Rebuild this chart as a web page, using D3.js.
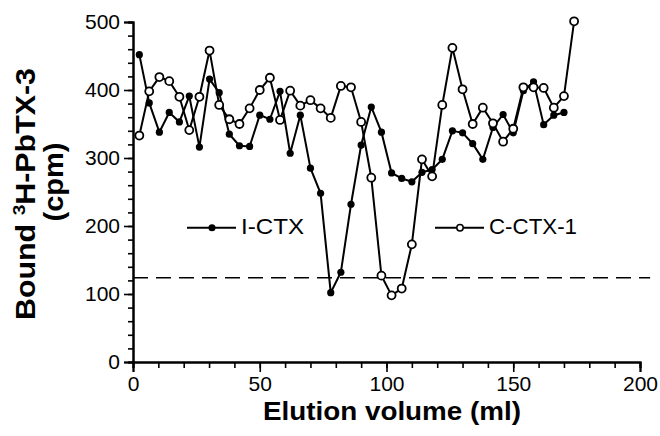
<!DOCTYPE html>
<html>
<head>
<meta charset="utf-8">
<script src="https://cdn.jsdelivr.net/npm/d3@7"></script>
<style>
  body { margin: 0; background: #fff; }
  svg { font-family: "Liberation Sans", Arial, sans-serif; }
</style>
</head>
<body>
<svg></svg>
<script>
var width = 660,
    height = 436,
    margin = {
        left: 133,
        right: 20,
        top: 22,
        bottom: 74
    }

// elution volume (ml) of each fraction
var volumeI = [2.5, 6.4, 10.4, 14.3, 18.3, 22.2, 26.2, 30.2, 34, 38, 42, 46, 50, 54, 58, 62, 66, 70, 74, 78, 82, 86, 90, 94, 98, 102, 106, 110, 114, 118, 122, 126, 130, 134, 138, 142, 146, 150, 154, 158, 162, 166, 170]
var boundI = [452, 381, 338, 367, 353, 391, 316, 416, 396, 335, 318, 317, 363, 357, 398, 307, 363, 285, 248, 102, 132, 232, 319, 375, 338, 278, 270, 265, 279, 283, 298, 340, 337, 321, 298, 345, 364, 337, 399, 412, 349, 363, 367]

var volumeC = [2.5, 6.4, 10.4, 14.3, 18.3, 22.2, 26.2, 30.2, 34, 38, 42, 46, 50, 54, 58, 62, 66, 70, 74, 78, 82, 86, 90, 94, 98, 102, 106, 110, 114, 118, 122, 126, 130, 134, 138, 142, 146, 150, 154, 158, 162, 166, 170, 174]
var boundC = [333, 398, 419, 413, 390, 341, 390, 458, 378, 357, 350, 373, 400, 418, 356, 399, 377, 385, 373, 359, 406, 404, 353, 271, 127, 98, 108, 173, 298, 273, 378, 462, 401, 350, 374, 351, 324, 343, 404, 404, 403, 374, 391, 501]

var xTicks = [0, 50, 100, 150, 200],
    yTicks = [0, 100, 200, 300, 400, 500],
    baseline = 124

var svg = d3.select("svg").attr("width", width).attr("height", height)
var w = width - margin.left - margin.right,
    h = height - margin.top - margin.bottom

var xScale = d3.scaleLinear().domain([0, 200]).range([0, 507])
var yScale = d3.scaleLinear().domain([0, 500]).range([h, 0])

var group = svg.append("g")
    .attr("transform", "translate(" + margin.left + "," + margin.top + ")")

// minor ticks first, then the labelled axes on top
group.append("g")
    .attr("transform", "translate(0," + h + ")")
    .call(d3.axisBottom(xScale).tickValues(d3.range(0, 201, 10)).tickSize(6).tickFormat(""))
group.append("g")
    .call(d3.axisLeft(yScale).tickValues(d3.range(0, 501, 20)).tickSize(5).tickFormat(""))

group.append("g")
    .attr("transform", "translate(0," + h + ")")
    .call(d3.axisBottom(xScale).tickValues(xTicks).tickSize(10).tickPadding(4))
group.append("g")
    .call(d3.axisLeft(yScale).tickValues(yTicks).tickSize(9).tickPadding(4))

group.selectAll(".domain").attr("stroke-width", 2).attr("stroke", "#000")
group.selectAll(".tick line").attr("stroke-width", 1.6).attr("stroke", "#000")
group.selectAll(".tick text")
    .style("font-family", "Liberation Sans, Arial, sans-serif")
    .style("font-size", "21px")
    .attr("fill", "#000")

// dashed reference level
group.append("line")
    .attr("x1", xScale(0)).attr("x2", xScale(204))
    .attr("y1", yScale(baseline)).attr("y2", yScale(baseline))
    .attr("stroke", "#000")
    .attr("stroke-width", 1.6)
    .attr("stroke-dasharray", "15,8")

var line = d3.line()
    .x(function(d) { return xScale(d[0]) })
    .y(function(d) { return yScale(d[1]) })

var dataI = d3.zip(volumeI, boundI),
    dataC = d3.zip(volumeC, boundC)

group.append("path").datum(dataI)
    .attr("d", line).attr("fill", "none").attr("stroke", "#000").attr("stroke-width", 2)
group.append("path").datum(dataC)
    .attr("d", line).attr("fill", "none").attr("stroke", "#000").attr("stroke-width", 2)

group.selectAll(".dotI").data(dataI).enter().append("circle")
    .attr("class", "dotI")
    .attr("cx", function(d) { return xScale(d[0]) })
    .attr("cy", function(d) { return yScale(d[1]) })
    .attr("r", 3.6)
    .attr("fill", "#000")

group.selectAll(".dotC").data(dataC).enter().append("circle")
    .attr("class", "dotC")
    .attr("cx", function(d) { return xScale(d[0]) })
    .attr("cy", function(d) { return yScale(d[1]) })
    .attr("r", 4)
    .attr("fill", "#fff")
    .attr("stroke", "#000")
    .attr("stroke-width", 1.8)

// legend (small markers, as in the figure)
var legend = [
    { label: "I-CTX", x: 187, len: 63, filled: true },
    { label: "C-CTX-1", x: 435, len: 88, filled: false }
]
var ly = 227.7
legend.forEach(function(l) {
    svg.append("line")
        .attr("x1", l.x).attr("x2", l.x + 49)
        .attr("y1", ly).attr("y2", ly)
        .attr("stroke", "#000").attr("stroke-width", 2)
    svg.append("circle")
        .attr("cx", l.x + 25).attr("cy", ly).attr("r", l.filled ? 2.8 : 3.2)
        .attr("fill", l.filled ? "#000" : "#fff").attr("stroke", "#000").attr("stroke-width", 1.5)
    svg.append("text")
        .attr("x", l.x + 54).attr("y", ly + 5.8)
        .attr("textLength", l.len).attr("lengthAdjust", "spacingAndGlyphs")
        .style("font-size", "22px")
        .text(l.label)
})

// axis titles
svg.append("text")
    .attr("x", 392).attr("y", 420)
    .attr("text-anchor", "middle")
    .attr("textLength", 258).attr("lengthAdjust", "spacingAndGlyphs")
    .style("font-size", "25px").style("font-weight", "bold")
    .text("Elution volume (ml)")

var yTitle = svg.append("text")
    .attr("transform", "translate(35,194) rotate(-90)")
    .attr("text-anchor", "middle")
    .attr("textLength", 252).attr("lengthAdjust", "spacingAndGlyphs")
    .style("font-size", "27px").style("font-weight", "bold")
yTitle.append("tspan").text("Bound ")
yTitle.append("tspan").attr("dy", -10).style("font-size", "17px").text("3")
yTitle.append("tspan").attr("dy", 10).text("H-PbTX-3")

svg.append("text")
    .attr("transform", "translate(63,182) rotate(-90)")
    .attr("text-anchor", "middle")
    .attr("textLength", 79).attr("lengthAdjust", "spacingAndGlyphs")
    .style("font-size", "27px").style("font-weight", "bold")
    .text("(cpm)")
</script>
</body>
</html>
